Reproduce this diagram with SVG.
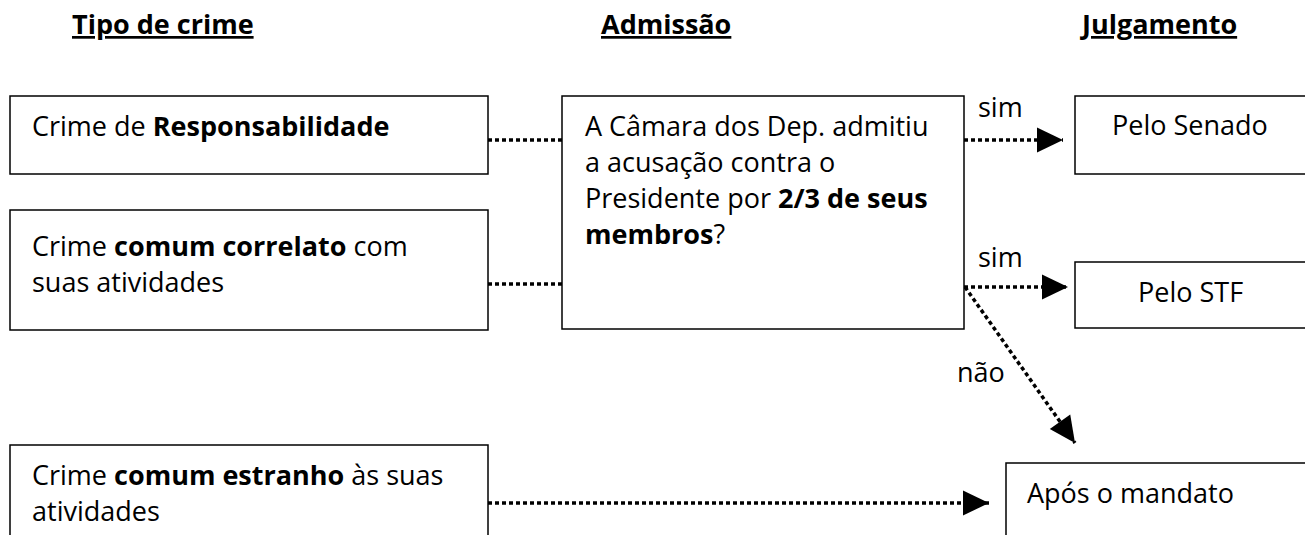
<svg xmlns="http://www.w3.org/2000/svg" width="1305" height="535" viewBox="0 0 1305 535">
<style>
.box{fill:#fff;stroke:#000;stroke-width:1.5}
.t{font-family:"Open Sans","Liberation Sans",sans-serif;font-size:27px;fill:#000}
.b{font-weight:bold}
.h{font-family:"Open Sans","Liberation Sans",sans-serif;font-size:27px;font-weight:bold;fill:#000;text-decoration:underline}
.c{fill:none;stroke:#000;stroke-width:3.5;stroke-dasharray:4 3}
</style>
<defs>
<marker id="arr" markerUnits="userSpaceOnUse" markerWidth="26" markerHeight="25" refX="26" refY="12.5" orient="auto" overflow="visible">
<path d="M0,0 L26,12.5 L0,25 Z" fill="#000"/>
</marker>
</defs>
<rect width="1305" height="535" fill="#fff"/>
<g id="headings">
<text class="h" x="72" y="34">Tipo de crime</text>
<text class="h" x="601" y="34">Admissão</text>
<text class="h" x="1082" y="34">Julgamento</text>
</g>
<g id="connectors">
<line class="c" x1="488" y1="140" x2="562" y2="140"/>
<line class="c" x1="488" y1="284" x2="562" y2="284"/>
<line class="c" x1="964" y1="140" x2="1063" y2="140" marker-end="url(#arr)"/>
<line class="c" x1="964" y1="287" x2="1068" y2="287" marker-end="url(#arr)"/>
<line class="c" x1="965" y1="287" x2="1075" y2="443" marker-end="url(#arr)"/>
<line class="c" x1="488" y1="503" x2="989" y2="503" marker-end="url(#arr)"/>
<text class="t" x="978" y="117">sim</text>
<text class="t" x="978" y="267">sim</text>
<text class="t" x="957" y="382">não</text>
</g>
<g id="crime-responsabilidade">
<rect class="box" x="10" y="96" width="478" height="78"/>
<text class="t" x="32" y="136">Crime de <tspan class="b">Responsabilidade</tspan></text>
</g>
<g id="crime-comum-correlato">
<rect class="box" x="10" y="210" width="478" height="120"/>
<text class="t" x="32" y="256">Crime <tspan class="b">comum correlato</tspan> com</text>
<text class="t" x="32" y="292">suas atividades</text>
</g>
<g id="crime-comum-estranho">
<rect class="box" x="10" y="445" width="478" height="110"/>
<text class="t" x="32" y="485">Crime <tspan class="b">comum estranho</tspan> às suas</text>
<text class="t" x="32" y="521">atividades</text>
</g>
<g id="admissao">
<rect class="box" x="562" y="96" width="402" height="233"/>
<text class="t" x="585" y="136">A Câmara dos Dep. admitiu</text>
<text class="t" x="585" y="172">a acusação contra o</text>
<text class="t" x="585" y="208">Presidente por <tspan class="b">2/3 de seus</tspan></text>
<text class="t" x="585" y="244"><tspan class="b">membros</tspan>?</text>
</g>
<g id="pelo-senado">
<rect class="box" x="1075" y="96" width="260" height="78"/>
<text class="t" x="1112" y="135">Pelo Senado</text>
</g>
<g id="pelo-stf">
<rect class="box" x="1075" y="262" width="260" height="66"/>
<text class="t" x="1138" y="302">Pelo STF</text>
</g>
<g id="apos-mandato">
<rect class="box" x="1006" y="463" width="330" height="100"/>
<text class="t" x="1027" y="503">Após o mandato</text>
</g>
</svg>
